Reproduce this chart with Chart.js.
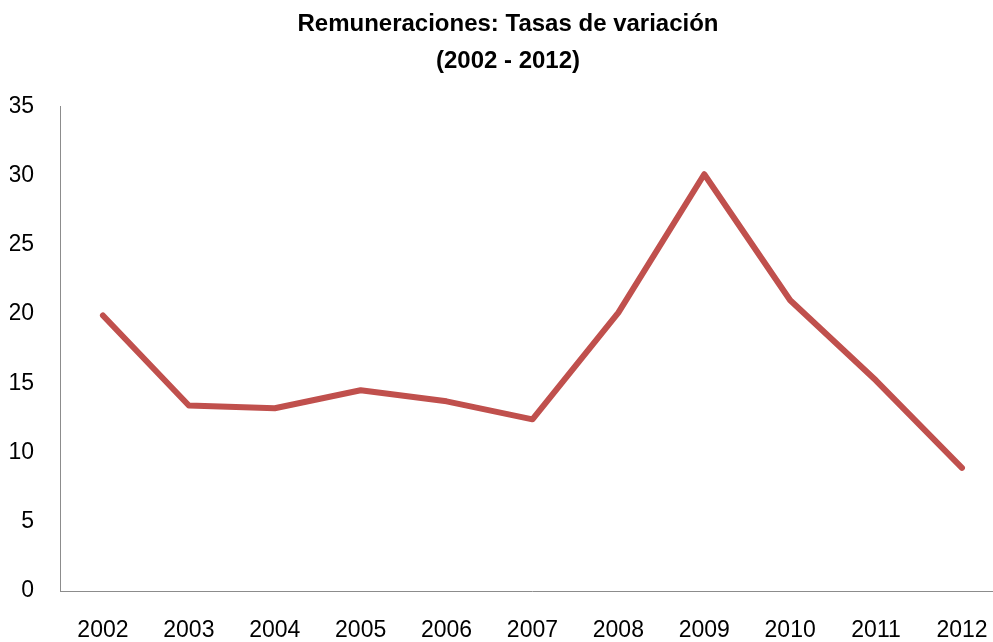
<!DOCTYPE html>
<html>
<head>
<meta charset="utf-8">
<script src="https://cdn.jsdelivr.net/npm/chart.js@4/dist/chart.umd.min.js"></script>
<style>
    html, body { margin: 0; padding: 0; background: #fff; overflow: hidden; }
    #wrap { width: 1016px; height: 642px; }
</style>
</head>
<body>
<div id="wrap"><canvas id="rateChart"></canvas></div>
<script>
const years = ['2002', '2003', '2004', '2005', '2006', '2007', '2008', '2009', '2010', '2011', '2012'];
const rates = [19.9, 13.4, 13.2, 14.5, 13.7, 12.4, 20.1, 30.1, 21.0, 15.2, 8.9];
const titleLines = ['Remuneraciones: Tasas de variación', '(2002 - 2012)'];

const fontFamily = '"Liberation Sans Narrow", "Arial Narrow", "Liberation Sans", Arial, sans-serif';
const lineColor = '#c0504d';
const axisColor = '#8c8c8c';

const ctx = document.getElementById('rateChart');

new Chart(ctx, {
    type: 'line',
    data: {
        labels: years,
        datasets: [{
            label: 'Remuneraciones',
            data: rates,
            borderColor: lineColor,
            backgroundColor: lineColor,
            borderWidth: 6,
            pointRadius: 0,
            borderCapStyle: 'round',
            borderJoinStyle: 'round',
            tension: 0
        }]
    },
    options: {
        responsive: true,
        maintainAspectRatio: false,
        animation: false,
        layout: {
            padding: { left: 10, right: 10, top: 0, bottom: 0 }
        },
        plugins: {
            legend: { display: false },
            tooltip: { enabled: false },
            title: {
                display: true,
                text: titleLines,
                color: '#000',
                font: { family: fontFamily, size: 24, weight: 'bold', lineHeight: 1.55 },
                padding: { top: 6, bottom: 26 }
            }
        },
        scales: {
            x: {
                offset: true,
                grid: { display: false, drawTicks: false },
                border: { display: true, color: axisColor, width: 1 },
                ticks: {
                    color: '#000',
                    padding: 28,
                    maxRotation: 0,
                    autoSkip: false,
                    font: { family: fontFamily, size: 23, lineHeight: 1 }
                },
                afterFit: (scale) => { scale.height = 51; }
            },
            y: {
                min: 0,
                max: 35,
                grid: { display: false, drawTicks: false },
                border: { display: true, color: axisColor, width: 1 },
                ticks: {
                    stepSize: 5,
                    color: '#000',
                    padding: 26,
                    font: { family: fontFamily, size: 23, lineHeight: 1 }
                },
                afterFit: (scale) => { scale.width = 50; }
            }
        }
    }
});
</script>
</body>
</html>
